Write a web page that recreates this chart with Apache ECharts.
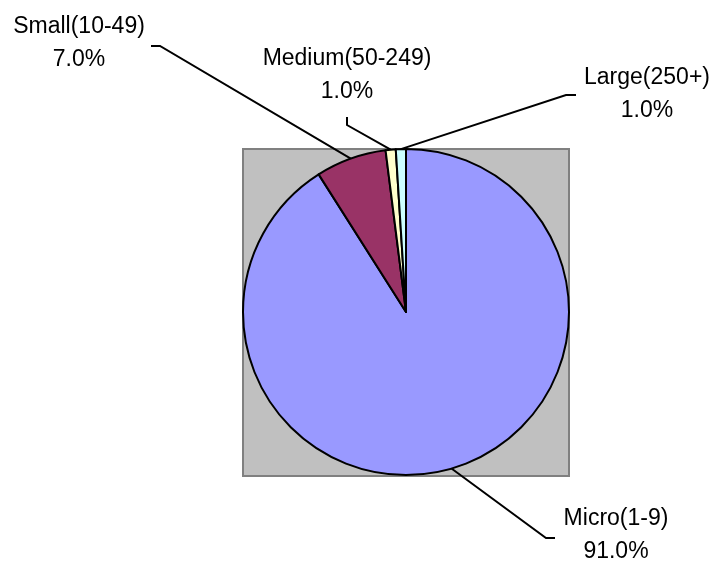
<!DOCTYPE html>
<html>
<head>
<meta charset="utf-8">
<script src="https://cdn.jsdelivr.net/npm/echarts@6/dist/echarts.min.js"></script>
<style>
  html, body { margin: 0; padding: 0; background: #fff; }
  #main { width: 717px; height: 561px; }
</style>
</head>
<body>
<div id="main"></div>
<script type="text/javascript">
    // data
    var sizeClasses = ['Micro(1-9)', 'Small(10-49)', 'Medium(50-249)', 'Large(250+)'];
    var sharePct = [91, 7, 1, 1];
    var sliceColors = ['#9999FF', '#993366', '#FFFFCC', '#CCFFFF'];

    // where each label sits, and the bend of its leader line
    var labelPos = {
        'Micro(1-9)': { x: 616, y: 535, bend: [[546, 538], [555, 538]] },
        'Small(10-49)': { x: 79, y: 43, bend: [[160, 46], [151, 46]] },
        'Medium(50-249)': { x: 347, y: 75, bend: [[347, 125], [347, 117]] },
        'Large(250+)': { x: 647, y: 94, bend: [[566, 95], [576, 95]] }
    };

    var pieData = [];
    for (var i = 0; i < sizeClasses.length; i++) {
        pieData.push({
            name: sizeClasses[i],
            value: sharePct[i],
            itemStyle: { color: sliceColors[i] }
        });
    }

    var myChart = echarts.init(document.getElementById('main'));
    var option = {
        animation: false,
        backgroundColor: '#ffffff',
        graphic: [{
            type: 'rect',
            z: 0,
            shape: { x: 243, y: 149, width: 326, height: 327 },
            style: { fill: '#C0C0C0', stroke: '#808080', lineWidth: 2 }
        }],
        series: [{
            type: 'pie',
            z: 5,
            center: [406, 312],
            radius: 163,
            startAngle: 90,
            clockwise: true,
            avoidLabelOverlap: false,
            data: pieData,
            itemStyle: { borderColor: '#000', borderWidth: 2 },
            label: {
                show: true,
                position: 'outside',
                color: '#000',
                fontFamily: 'Liberation Sans, Arial, sans-serif',
                fontSize: 23,
                lineHeight: 33,
                align: 'center',
                formatter: function (p) {
                    return p.name + '\n' + p.percent.toFixed(1) + '%';
                }
            },
            labelLine: {
                show: true,
                lineStyle: { color: '#000', width: 2 }
            },
            labelLayout: function (params) {
                var name = sizeClasses[params.dataIndex];
                var pos = labelPos[name];
                var anchor = params.labelLinePoints[0];
                return {
                    x: pos.x,
                    y: pos.y,
                    align: 'center',
                    verticalAlign: 'middle',
                    labelLinePoints: [anchor, pos.bend[0], pos.bend[1]]
                };
            }
        }]
    };
    myChart.setOption(option);
</script>
</body>
</html>
